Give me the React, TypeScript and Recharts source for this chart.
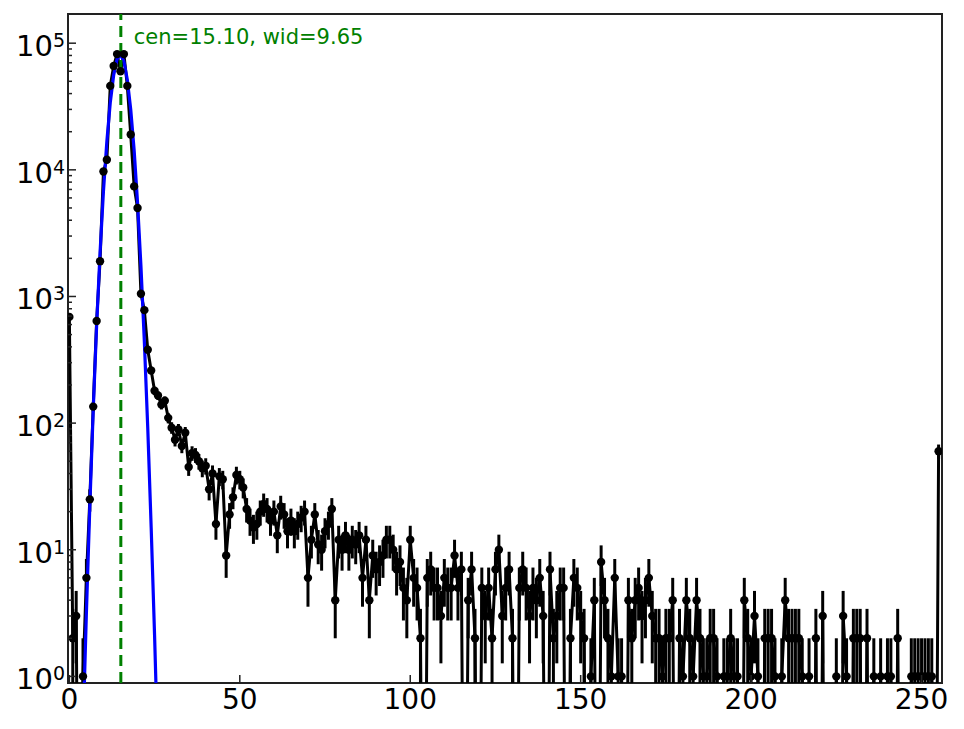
import { LineChart, Line, XAxis, YAxis, ErrorBar, ReferenceLine, ReferenceArea } from "recharts";

const FONT = "DejaVu Sans, sans-serif";
const FRAME = "#222222";
const GREEN = "#008000";
const BLUE = "#0000ff";

// histogram counts for bins 0..255
const COUNTS = [
  690, 2, 3, 0, 1, 6, 25, 135, 640, 1900,
  9700, 12000, 46000, 66000, 82000, 60000, 82000, 46000, 19000, 7400,
  5000, 1050, 780, 380, 260, 180, 165, 140, 150, 110,
  92, 74, 89, 66, 84, 45, 58, 56, 50, 44,
  46, 30, 40, 16, 38, 36, 9, 19, 26, 39,
  36, 31, 21, 17, 15, 16, 20, 23, 21, 17,
  20, 13, 22, 19, 14, 17, 14, 16, 18, 20,
  6, 12, 19, 11, 10, 14, 16, 21, 4, 12,
  10, 13, 10, 12, 11, 13, 6, 12, 4, 9,
  7, 8, 9, 12, 12, 10, 7, 8, 5, 4,
  12, 6, 5, 2, 0, 6, 7, 5, 5, 3,
  6, 5, 5, 9, 5, 7, 0, 4, 7, 2,
  0, 5, 3, 5, 2, 7, 10, 3, 5, 7,
  2, 0, 5, 7, 5, 3, 5, 4, 6, 3,
  0, 7, 2, 3, 5, 5, 0, 2, 6, 5,
  3, 2, 0, 1, 4, 0, 8, 4, 2, 1,
  6, 1, 1, 0, 4, 2, 4, 5, 3, 4,
  6, 3, 2, 2, 1, 2, 2, 4, 0, 2,
  1, 4, 2, 1, 4, 2, 1, 1, 2, 2,
  1, 0, 1, 1, 2, 1, 1, 0, 4, 2,
  1, 3, 1, 0, 2, 2, 2, 1, 0, 1,
  4, 2, 2, 2, 2, 1, 0, 1, 0, 2,
  0, 3, 0, 0, 0, 1, 0, 3, 1, 0,
  2, 2, 2, 0, 2, 0, 1, 0, 1, 0,
  1, 1, 0, 2, 0, 0, 0, 1, 1, 1,
  1, 1, 1, 1, 0, 60,
];

// gaussian fit, sampled at bins 4..26
const FIT_START = 4;
const FIT_VALUES = [
  0.37, 3.2, 22, 127, 590, 2200, 6800, 16800, 34000, 56000, 75000, 81000,
  72000, 51500, 30000, 14300, 5500, 1730, 440, 91, 15, 2.1, 0.23,
];

const FIT_CENTER = 15.1;
const FIT_LABEL = "cen=15.10, wid=9.65";

const X_TICKS = [0, 50, 100, 150, 200, 250];
const Y_DECADES = [1, 10, 100, 1000, 10000];
const Y_TOP_TICK = 100000;

const X_MIN = -0.4;
const X_MAX = 256;
const Y_MIN = 0.887;
const Y_MAX = 170000;
const ZERO_FLOOR = 1e-3;

const yTicks = [...Y_DECADES.flatMap((d) => [1, 2, 3, 4, 5, 6, 7, 8, 9].map((m) => m * d)), Y_TOP_TICK];

const rows = COUNTS.map((c, i) => {
  const e = Math.sqrt(c);
  const y = c > 0 ? c : ZERO_FLOOR;
  const lower = Math.max(c - e, Y_MIN);
  const fi = i - FIT_START;
  return {
    x: i,
    y,
    err: c > 0 ? [c - lower, e] : [0, 0],
    fit: fi >= 0 && fi < FIT_VALUES.length ? FIT_VALUES[fi] : null,
  };
});

function YTick({ x, y, payload }: any) {
  const lg = Math.log10(payload.value);
  const major = Math.abs(lg - Math.round(lg)) < 1e-6;
  return (
    <g>
      <line x1={x} x2={x + (major ? 8 : 4)} y1={y} y2={y} stroke={FRAME} strokeWidth={1.5} />
      {major && (
        <text x={x - 3} y={y + 13} textAnchor="end" fontFamily={FONT} fontSize={29} fill="#000">
          <tspan>10</tspan>
          <tspan dy={-9} fontSize={19}>
            {Math.round(lg)}
          </tspan>
        </text>
      )}
    </g>
  );
}

function XTick({ x, y, payload }: any) {
  return (
    <g>
      <line x1={x} x2={x} y1={y} y2={y - 8} stroke={FRAME} strokeWidth={1.5} />
      <text x={x} y={y + 26} textAnchor="middle" fontFamily={FONT} fontSize={28} fill="#000">
        {payload.value}
      </text>
    </g>
  );
}

function Dot(props: any) {
  const { cx, cy, payload, index } = props;
  if (!(payload.y >= 1)) return <g key={`d${index}`} />;
  return <circle key={`d${index}`} cx={cx} cy={cy} r={4.2} fill="#000" />;
}

function FitLabel(props: any) {
  const vb = props.viewBox || {};
  return (
    <text x={vb.x + 13} y={vb.y + 30} fontFamily={FONT} fontSize={21} fill={GREEN}>
      {FIT_LABEL}
    </text>
  );
}

export default function App() {
  return (
    <div style={{ position: "absolute", left: 0, top: 0, width: 964, height: 729, background: "#fff" }}>
      <LineChart width={964} height={729} data={rows} margin={{ top: 14, right: 22, bottom: 1, left: 0 }}>
        <XAxis
          type="number"
          dataKey="x"
          domain={[X_MIN, X_MAX]}
          ticks={X_TICKS}
          interval={0}
          allowDataOverflow
          axisLine={false}
          tickLine={false}
          tickSize={0}
          tickMargin={0}
          height={45}
          tick={<XTick />}
        />
        <YAxis
          scale="log"
          domain={[Y_MIN, Y_MAX]}
          ticks={yTicks}
          interval={0}
          allowDataOverflow
          axisLine={false}
          tickLine={false}
          tickSize={0}
          tickMargin={0}
          width={68}
          tick={<YTick />}
        />
        <ReferenceArea x1={X_MIN} x2={X_MAX} y1={Y_MIN} y2={Y_MAX} fill="none" stroke={FRAME} strokeWidth={2} />
        <Line
          dataKey="y"
          stroke="#000"
          strokeWidth={3}
          dot={Dot}
          activeDot={false}
          isAnimationActive={false}
        >
          <ErrorBar dataKey="err" direction="y" width={0} stroke="#000" strokeWidth={3} isAnimationActive={false} />
        </Line>
        <Line
          dataKey="fit"
          stroke={BLUE}
          strokeWidth={3.2}
          dot={false}
          activeDot={false}
          isAnimationActive={false}
        />
        <ReferenceLine
          x={FIT_CENTER}
          stroke={GREEN}
          strokeWidth={3}
          strokeDasharray="11 6"
          label={FitLabel}
        />
      </LineChart>
    </div>
  );
}
